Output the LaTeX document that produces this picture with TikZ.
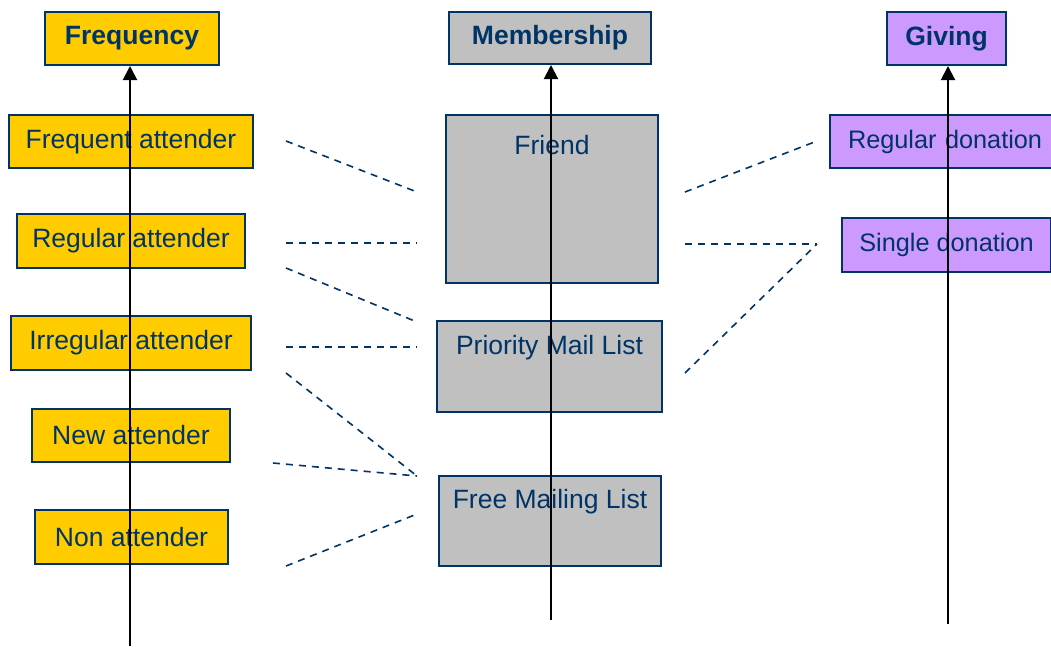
\documentclass[tikz,border=0pt]{standalone}
\usepackage{fontspec}
\setmainfont{Liberation Sans}
\usetikzlibrary{arrows.meta}
\definecolor{ink}{HTML}{003366}
\definecolor{gold}{HTML}{FFCC00}
\definecolor{silver}{HTML}{C0C0C0}
\definecolor{lilac}{HTML}{CC99FF}
\tikzset{
  box/.style={draw=ink, line width=2pt, rectangle, inner sep=0pt, text=ink,
    font=\fontsize{26.5}{30}\selectfont},
  head/.style={box, font=\fontsize{26.5}{30}\selectfont\bfseries},
  freqbox/.style={box, fill=gold},
  membox/.style={box, fill=silver},
  givebox/.style={box, fill=lilac, font=\fontsize{25.3}{30}\selectfont},
  boxtext/.style={anchor=base, text=ink, inner sep=0pt, font=\fontsize{26.5}{30}\selectfont},
  axis/.style={draw=black, line width=2pt, -{Triangle[width=14pt,length=14pt]}},
  link/.style={draw=ink, line width=1.6pt, dash pattern=on 7pt off 6pt},
}
\begin{document}
\begin{tikzpicture}[x=1pt,y=-1pt]
\useasboundingbox (0,0) rectangle (1051,646);
\begin{scope}
\clip (0,0) rectangle (1051,646);

% Frequency column
\node[head, fill=gold, minimum width=174pt, minimum height=53pt] (freq) at (132,38.5) {Frequency};
\node[freqbox, minimum width=244pt, minimum height=53pt] (fa) at (131,141.5) {Frequent attender};
\node[freqbox, minimum width=228pt, minimum height=54pt] (ra) at (131,241) {Regular attender};
\node[freqbox, minimum width=240pt, minimum height=54pt] (ia) at (131,343) {Irregular attender};
\node[freqbox, minimum width=198pt, minimum height=53pt] (na) at (131,435.5) {New attender};
\node[freqbox, minimum width=193pt, minimum height=54pt] (no) at (131.5,537) {Non attender};

% Membership column
\node[head, fill=silver, minimum width=202pt, minimum height=52pt] (mem) at (550,38) {Membership};
\node[membox, minimum width=212pt, minimum height=168pt] (friend) at (552,199) {};
\node[boxtext] (friendt) at (552,154) {Friend};
\node[membox, minimum width=225pt, minimum height=91pt] (pml) at (549.5,366.5) {};
\node[boxtext] (pmlt) at (549.5,354) {Priority Mail List};
\node[membox, minimum width=222pt, minimum height=90pt] (fml) at (550,521) {};
\node[boxtext] (fmlt) at (550,508) {Free Mailing List};

% Giving column
\node[head, fill=lilac, minimum width=119pt, minimum height=53pt] (giv) at (946.5,38.5) {Giving};
\node[givebox, minimum width=232pt, minimum height=53pt, text width=232pt, align=left] (rd) at (946,141.5) {\hspace*{18pt}Regular donation};
\node[givebox, minimum width=209pt, minimum height=54pt] (sd) at (946.5,245) {Single donation};

% axis arrows
\coordinate (fbase) at (130,646);
\coordinate (mbase) at (551,620);
\coordinate (gbase) at (948,624);
\draw[axis] (fbase) -- (freq.south -| fbase);
\draw[axis] (mbase) -- (mem.south -| mbase);
\draw[axis] (gbase) -- (giv.south -| gbase);

% link end points
\coordinate (l1a) at (286,141); \coordinate (l1b) at (417,192);
\coordinate (l2a) at (286,243); \coordinate (l2b) at (417,243);
\coordinate (l3a) at (286,268); \coordinate (l3b) at (417,322);
\coordinate (l4a) at (286,347); \coordinate (l4b) at (417,347);
\coordinate (l5a) at (286,373); \coordinate (l5b) at (417,476);
\coordinate (l6a) at (273,463); \coordinate (l6b) at (417,476);
\coordinate (l7a) at (286,566); \coordinate (l7b) at (417,514);
\coordinate (r1a) at (685,192); \coordinate (r1b) at (817,141);
\coordinate (r2a) at (685,244); \coordinate (r2b) at (817,244);
\coordinate (r3a) at (685,373); \coordinate (r3b) at (817,244);

\draw[link] (l1a) -- (l1b);
\draw[link] (l2a) -- (l2b);
\draw[link] (l3a) -- (l3b);
\draw[link] (l4a) -- (l4b);
\draw[link] (l5a) -- (l5b);
\draw[link] (l6a) -- (l6b);
\draw[link] (l7a) -- (l7b);
\draw[link] (r1a) -- (r1b);
\draw[link] (r2a) -- (r2b);
\draw[link] (r3a) -- (r3b);
\end{scope}
\end{tikzpicture}
\end{document}
